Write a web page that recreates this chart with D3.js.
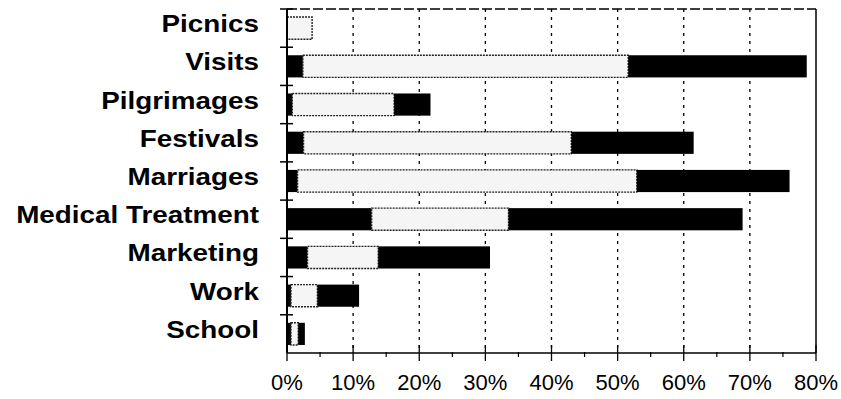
<!DOCTYPE html>
<html>
<head>
<meta charset="utf-8">
<script src="https://cdn.jsdelivr.net/npm/d3@7"></script>
<style>
  html, body { margin: 0; padding: 0; background: #fff; }
  svg { display: block; }
</style>
</head>
<body>
<script>
const categories = ["Picnics", "Visits", "Pilgrimages", "Festivals", "Marriages", "Medical Treatment", "Marketing", "Work", "School"];
const seriesA = [0, 2.4, 0.8, 2.5, 1.6, 12.8, 3.1, 0.6, 0.6];
const seriesB = [3.8, 49.2, 15.4, 40.5, 51.3, 20.7, 10.7, 4.0, 1.1];
const seriesC = [0, 27.0, 5.5, 18.5, 23.1, 35.4, 16.9, 6.3, 1.0];
const tickValues = [0, 10, 20, 30, 40, 50, 60, 70, 80];

(function () {
const W = 841, H = 399;
const pLeft = 287, pRight = 816, pTop = 9, pBottom = 353;

const svg = d3.select("body").append("svg").attr("width", W).attr("height", H);

const x = d3.scaleLinear().domain([0, 80]).range([pLeft, pRight]);
const y = d3.scaleBand().domain(categories).range([pTop, pBottom]).paddingInner(0.42).paddingOuter(0.21);

// gridlines
svg.append("g").selectAll("line").data(tickValues.filter(t => t > 0 && t < 80)).join("line")
  .attr("x1", d => x(d)).attr("x2", d => x(d))
  .attr("y1", pTop).attr("y2", pBottom)
  .attr("stroke", "#000").attr("stroke-width", 1.3).attr("stroke-dasharray", "3,5");

// top border (dashed) and right border
svg.append("line").attr("x1", pLeft).attr("x2", x(80)).attr("y1", pTop).attr("y2", pTop)
  .attr("stroke", "#000").attr("stroke-width", 1.3).attr("stroke-dasharray", "10,3");
svg.append("line").attr("x1", x(80)).attr("x2", x(80)).attr("y1", pTop).attr("y2", pBottom)
  .attr("stroke", "#000").attr("stroke-width", 1.5);

// stacked bars
const rows = categories.map((c, i) => ({ c, a: seriesA[i], b: seriesB[i], cc: seriesC[i] }));
const segs = [];
rows.forEach(r => {
  segs.push({ c: r.c, x0: 0, x1: r.a, k: 0 });
  segs.push({ c: r.c, x0: r.a, x1: r.a + r.b, k: 1 });
  segs.push({ c: r.c, x0: r.a + r.b, x1: r.a + r.b + r.cc, k: 2 });
});
svg.append("g").selectAll("rect").data(segs.filter(s => s.x1 > s.x0)).join("rect")
  .attr("x", d => x(d.x0))
  .attr("y", d => y(d.c))
  .attr("width", d => x(d.x1) - x(d.x0))
  .attr("height", y.bandwidth())
  .attr("fill", d => d.k === 1 ? "#f5f5f5" : "#000")
  .attr("stroke", d => d.k === 1 ? "#222" : "none")
  .attr("stroke-width", 1.4)
  .attr("stroke-dasharray", d => d.k === 1 ? "2,1" : null);

// x axis
const xAxis = svg.append("g");
xAxis.append("line").attr("x1", pLeft).attr("x2", x(80)).attr("y1", pBottom).attr("y2", pBottom)
  .attr("stroke", "#000").attr("stroke-width", 1.5);
xAxis.selectAll("line.major").data(tickValues).join("line").attr("class", "major")
  .attr("x1", d => x(d)).attr("x2", d => x(d)).attr("y1", pBottom - 8).attr("y2", pBottom + 8)
  .attr("stroke", "#000").attr("stroke-width", 1.3);
xAxis.selectAll("line.minor").data(tickValues.slice(0, -1).map(d => d + 5)).join("line").attr("class", "minor")
  .attr("x1", d => x(d)).attr("x2", d => x(d)).attr("y1", pBottom - 1).attr("y2", pBottom + 4)
  .attr("stroke", "#000").attr("stroke-width", 1.2);
xAxis.selectAll("text").data(tickValues).join("text")
  .attr("x", d => x(d)).attr("y", 390)
  .attr("text-anchor", "middle")
  .attr("font-family", "Arial, 'Liberation Sans', sans-serif")
  .attr("font-size", 22)
  .attr("fill", "#000")
  .text(d => d + "%");

// y axis
const yAxis = svg.append("g");
yAxis.append("line").attr("x1", pLeft).attr("x2", pLeft).attr("y1", pTop).attr("y2", pBottom)
  .attr("stroke", "#000").attr("stroke-width", 2);
const bounds = categories.map(c => y(c) - y.step() * y.paddingInner() / 2);
yAxis.selectAll("line.tick").data(bounds).join("line").attr("class", "tick")
  .attr("x1", pLeft - 7).attr("x2", pLeft + 6).attr("y1", d => d).attr("y2", d => d)
  .attr("stroke", "#000").attr("stroke-width", 1.5);
yAxis.selectAll("text").data(categories).join("text")
  .attr("transform", d => `translate(259, ${y(d) + y.bandwidth() / 2 + 4}) scale(1.16, 1)`)
  .attr("text-anchor", "end")
  .attr("font-family", "Arial, 'Liberation Sans', sans-serif")
  .attr("font-weight", "bold")
  .attr("font-size", 24)
  .attr("fill", "#000")
  .text(d => d);
})();
</script>
</body>
</html>
